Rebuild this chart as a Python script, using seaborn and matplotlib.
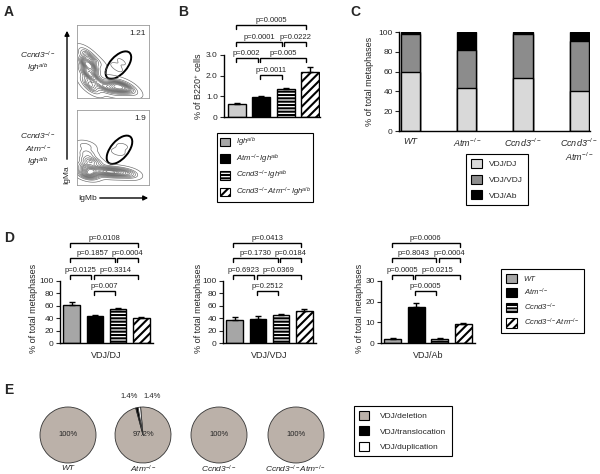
import matplotlib
matplotlib.use('Agg')

import matplotlib.pyplot as plt
from matplotlib.patches import Patch, Ellipse
import seaborn as sns
import numpy as np

W, H = 600, 474

# ---------------- data ----------------
# A: flow populations (IgMb, IgMa as axis fraction)
flow_top_x = [0.13, 0.16, 0.14, 0.18, 0.15, 0.20, 0.16, 0.20, 0.26, 0.26,
              0.33, 0.40, 0.47, 0.53, 0.58, 0.64, 0.70, 0.76, 0.55, 0.62]
flow_top_y = [0.62, 0.55, 0.48, 0.42, 0.35, 0.30, 0.22, 0.14, 0.50, 0.25,
              0.16, 0.15, 0.14, 0.15, 0.16, 0.15, 0.14, 0.13, 0.42, 0.50]
flow_top_w = [2, 3, 5, 5, 4, 3, 3, 3, 1.5, 1.5,
              2, 2.5, 3, 4, 4, 3, 2, 1.5, 0.4, 0.3]
flow_bot_x = [0.12, 0.14, 0.16, 0.14, 0.15, 0.20, 0.24,
              0.30, 0.38, 0.45, 0.52, 0.60, 0.68, 0.75, 0.57, 0.63]
flow_bot_y = [0.52, 0.42, 0.33, 0.24, 0.14, 0.18, 0.30,
              0.20, 0.17, 0.18, 0.17, 0.17, 0.16, 0.15, 0.44, 0.52]
flow_bot_w = [1.5, 2, 3, 4, 6, 5, 2,
              3, 3, 4, 3.5, 3, 2, 1.5, 0.4, 0.3]
gate_pct = ['1.21', '1.9']

IGH = r'Igh$^{a/b}$'
b_groups = [IGH, r'Atm$^{-/-}$Igh$^{a/b}$', r'Ccnd3$^{-/-}$Igh$^{a/b}$',
            r'Ccnd3$^{-/-}$Atm$^{-/-}$Igh$^{a/b}$']
b_mean = [0.65, 0.97, 1.35, 2.2]
b_sem = [0.05, 0.07, 0.04, 0.22]
b_pairs = [(0, 3), (0, 2), (2, 3), (0, 1), (1, 3), (1, 2)]
b_pvals = ['p=0.0005', 'p=0.0001', 'p=0.0222', 'p=0.002', 'p=0.005', 'p=0.0011']

genotypes = ['WT', r'Atm$^{-/-}$', r'Ccnd3$^{-/-}$', r'Ccnd3$^{-/-}$Atm$^{-/-}$']
c_ticklabels = ['WT', r'Atm$^{-/-}$', r'Ccnd3$^{-/-}$', 'Ccnd3$^{-/-}$\nAtm$^{-/-}$']
c_classes = ['VDJ/DJ', 'VDJ/VDJ', 'VDJ/Ab']
c_dj = [60, 43, 54, 40]
c_vdj = [38, 39, 44, 51]
c_ab = [2, 18, 2, 9]

d_classes = ['VDJ/DJ', 'VDJ/VDJ', 'VDJ/Ab']
d_dj_mean = [61, 44, 55, 40.5]
d_dj_sem = [5, 1.5, 1, 1]
d_vdj_mean = [37, 39, 45, 52]
d_vdj_sem = [4, 4, 1, 2]
d_ab_mean = [2, 17.5, 1.8, 9]
d_ab_sem = [0.6, 2, 0.4, 0.5]
d_pairs = [(0, 3), (0, 2), (2, 3), (0, 1), (1, 3), (1, 2)]
d_dj_p = ['p=0.0108', 'p=0.1857', 'p=0.0004', 'p=0.0125', 'p=0.3314', 'p=0.007']
d_vdj_p = ['p=0.0413', 'p=0.1730', 'p=0.0184', 'p=0.6923', 'p=0.0369', 'p=0.2512']
d_ab_p = ['p=0.0006', 'p=0.8043', 'p=0.0004', 'p=0.0005', 'p=0.0215', 'p=0.0005']

e_classes = ['VDJ/deletion', 'VDJ/translocation', 'VDJ/duplication']
e_wt = [100, 0, 0]
e_atm = [97.2, 1.4, 1.4]
e_ccnd3 = [100, 0, 0]
e_both = [100, 0, 0]
e_centre = ['100%', '97.2%', '100%', '100%']

# ---------------- style ----------------
sns.set_style('ticks')
plt.rcParams.update({
    'font.family': ['Liberation Sans', 'DejaVu Sans'],
    'mathtext.fontset': 'custom',
    'mathtext.rm': 'Liberation Sans',
    'mathtext.it': 'Liberation Sans:italic',
    'mathtext.bf': 'Liberation Sans:bold',
    'mathtext.default': 'it',
    'hatch.linewidth': 1.5,
    'axes.linewidth': 1.0,
    'axes.edgecolor': 'black',
})

GRAY = '#a6a6a6'
bar_colors = [GRAY, 'black', 'white', 'white']
bar_hatch = ['', '', '-----', '////']

fig = plt.figure(figsize=(W / 100, H / 100), dpi=100)
fig.patch.set_facecolor('white')


def rect(x0, y0, x1, y1):
    return [x0 / W, 1 - y1 / H, (x1 - x0) / W, (y1 - y0) / H]


ov = fig.add_axes([0, 0, 1, 1])
ov.set_xlim(0, W)
ov.set_ylim(H, 0)
ov.axis('off')

for letter, (lx, ly) in zip('ABCDE', [(4, 12), (178, 12), (350, 12), (4, 238), (4, 390)]):
    ov.text(lx, ly, letter, fontsize=10, fontweight='bold', va='center', ha='left')


def brackets(ax, pairs, pvals, levels, leg):
    for (i, j), p, lv in zip(pairs, pvals, levels):
        xl, xr = i - 0.05, j - 0.15
        ax.plot([xl, xl, xr, xr], [lv - leg, lv, lv, lv - leg], color='black',
                lw=1, clip_on=False, solid_joinstyle='miter')
        ax.text((xl + xr) / 2, lv + leg * 0.3, p, ha='center', va='bottom', fontsize=5.5)


def bar_panel(ax, labels, means, sems, colors, hatches, width):
    sns.barplot(x=labels, y=means, hue=labels, palette=colors, legend=False,
                saturation=1, width=width, edgecolor='black', linewidth=1, ax=ax)
    for patch, h in zip(ax.patches, hatches):
        patch.set_hatch(h)
    ax.errorbar(np.arange(len(means)), means, yerr=[np.zeros(len(sems)), sems],
                fmt='none', ecolor='black', elinewidth=1, capsize=2.2, capthick=1, zorder=5)
    ax.set_xticks([])
    ax.tick_params(axis='y', length=3, width=0.8, labelsize=6, pad=1.5)
    sns.despine(ax=ax)
    ax.patch.set_alpha(0)


def legend(ax, labels, colors, hatches, x, y, italic, spacing, fs=5.5, hs=1.45,
           pad=0.6, tpad=0.9):
    handles = [Patch(facecolor=c, edgecolor='black', hatch=h, linewidth=0.8)
               for c, h in zip(colors, hatches)]
    leg = ax.legend(handles, labels, loc='upper left', bbox_to_anchor=(x / W, 1 - y / H),
                    bbox_transform=fig.transFigure, frameon=True, fancybox=False,
                    framealpha=1, edgecolor='black', fontsize=fs, handlelength=hs,
                    handleheight=hs, labelspacing=spacing, borderpad=pad,
                    handletextpad=tpad, borderaxespad=0)
    leg.get_frame().set_linewidth(0.8)
    if italic:
        for t in leg.get_texts():
            t.set_fontstyle('italic')


# ---------------- A: flow plots ----------------
ax_top = fig.add_axes(rect(77, 25, 149, 98))
ax_bot = fig.add_axes(rect(77, 110, 149, 185))
for ax, xs, ys, ws, pct, gate in [
        (ax_top, flow_top_x, flow_top_y, flow_top_w, gate_pct[0], (0.575, 0.45)),
        (ax_bot, flow_bot_x, flow_bot_y, flow_bot_w, gate_pct[1], (0.59, 0.47))]:
    sns.kdeplot(x=xs, y=ys, weights=ws, levels=14, thresh=0.02, bw_adjust=0.6,
                color='0.4', linewidths=0.45, ax=ax)
    ax.set_xlim(0, 1)
    ax.set_ylim(0, 1)
    ax.add_patch(Ellipse(gate, 0.46, 0.24, angle=48, fill=False, lw=1.4,
                         edgecolor='black', transform=ax.transAxes))
    ax.text(0.96, 0.93, pct, ha='right', va='top', fontsize=6, transform=ax.transAxes)
    ax.set_xticks([])
    ax.set_yticks([])
    ax.set_xlabel('')
    ax.set_ylabel('')
    for s in ax.spines.values():
        s.set_color('0.6')
        s.set_linewidth(0.6)

ov.text(38, 62, 'Ccnd3$^{-/-}$\nIgh$^{a/b}$', ha='center', va='center', fontsize=6,
        fontstyle='italic', linespacing=1.1)
ov.text(38, 150, 'Ccnd3$^{-/-}$\nAtm$^{-/-}$\nIgh$^{a/b}$', ha='center', va='center',
        fontsize=6, fontstyle='italic', linespacing=1.1)
ov.text(67, 175, 'IgMa', rotation=90, ha='center', va='center', fontsize=6)
ov.annotate('', xy=(67, 28), xytext=(67, 162),
            arrowprops=dict(arrowstyle='-|>', color='black', lw=1, mutation_scale=7))
ov.text(78, 198, 'IgMb', ha='left', va='center', fontsize=6)
ov.annotate('', xy=(151, 198), xytext=(97, 198),
            arrowprops=dict(arrowstyle='-|>', color='black', lw=1, mutation_scale=7))

# ---------------- B ----------------
b_y0, b_px = 117, 20.67
ax_b = fig.add_axes(rect(224, 117 - 5 * b_px, 320, 117))
bar_panel(ax_b, b_groups, b_mean, b_sem, ['#cccccc', 'black', 'white', 'white'], bar_hatch, 0.74)
ax_b.set_xlim(-0.535, 3.42)
ax_b.set_ylim(0, 5)
ax_b.spines['left'].set_bounds(0, 3)
ax_b.spines['bottom'].set_bounds(-0.535, 3.42)
ax_b.set_yticks([0, 1, 2, 3], ['0', '1.0', '2.0', '3.0'])
ax_b.set_ylabel('% of B220$^{+}$ cells', fontsize=6.5)
ax_b.yaxis.set_label_coords(204, 86, transform=ov.transData)
b_levels = [(b_y0 - p) / b_px for p in [25, 42, 42, 58, 58, 75]]
brackets(ax_b, b_pairs, b_pvals, b_levels, 4 / b_px)
legend(ax_b, b_groups, [GRAY, 'black', 'white', 'white'], bar_hatch, 217, 133, True, 0.45,
       hs=1.3, pad=0.35, tpad=0.8)

# ---------------- C ----------------
ax_c = fig.add_axes(rect(399, 32, 590, 131))
tot = [a + b + c for a, b, c in zip(c_dj, c_vdj, c_ab)]
mid = [a + b for a, b in zip(c_dj, c_vdj)]
for vals, col in [(tot, 'black'), (mid, '#8c8c8c'), (c_dj, '#d9d9d9')]:
    sns.barplot(x=genotypes, y=vals, color=col, saturation=1, width=0.34,
                edgecolor='black', linewidth=1, ax=ax_c)
ax_c.set_xlim(-0.204, 3.19)
ax_c.set_ylim(0, 100)
ax_c.set_yticks(range(0, 101, 20))
ax_c.set_xticks(range(4), c_ticklabels, fontstyle='italic')
ax_c.tick_params(axis='x', length=0, labelsize=6.5, pad=4)
ax_c.tick_params(axis='y', length=3, width=0.8, labelsize=6, pad=1.5)
ax_c.set_ylabel('% of total metaphases', fontsize=6.5)
ax_c.yaxis.set_label_coords(374, 81, transform=ov.transData)
sns.despine(ax=ax_c)
legend(ax_c, c_classes, ['#d9d9d9', '#8c8c8c', 'black'], ['', '', ''], 466, 154, False, 0.75,
       fs=6, hs=1.3)

# ---------------- D ----------------
d_y0 = 343
d_specs = [
    (60, 153, d_dj_mean, d_dj_sem, d_dj_p, 100, 20, 0.623, d_classes[0], 38),
    (223, 316, d_vdj_mean, d_vdj_sem, d_vdj_p, 100, 20, 0.623, d_classes[1], 203),
    (381, 475, d_ab_mean, d_ab_sem, d_ab_p, 30, 10, 2.07, d_classes[2], 364),
]
for x0, x1, mean, sem, pv, top, step, pxper, xlab, ylx in d_specs:
    ax = fig.add_axes(rect(x0, 230, x1, d_y0))
    bar_panel(ax, genotypes, mean, sem, bar_colors, bar_hatch, 0.72)
    ax.set_xlim(-0.5, 3.5)
    ax.set_ylim(0, (d_y0 - 230) / pxper)
    ax.spines['left'].set_bounds(0, top)
    ax.set_yticks(range(0, top + 1, step))
    ax.set_ylabel('% of total metaphases', fontsize=6.5)
    ax.yaxis.set_label_coords(ylx, 308, transform=ov.transData)
    ax.set_xlabel(xlab, fontsize=6.5)
    ax.xaxis.set_label_coords((x0 + x1) / 2, 351, transform=ov.transData)
    levels = [(d_y0 - p) / pxper for p in [243, 258, 258, 275, 275, 291]]
    brackets(ax, d_pairs, pv, levels, 4 / pxper)
    ax_d_last = ax
legend(ax_d_last, genotypes, bar_colors, bar_hatch, 501, 269, True, 0.5)

# ---------------- E ----------------
ax_e = fig.add_axes(rect(0, 395, 340, 474))
pie_cols = ['#bbb1a9', 'black', 'white']
centres_x = [68, 143, 219, 296]
for cx, vals, lab, gl in zip(centres_x, [e_wt, e_atm, e_ccnd3, e_both], e_centre, genotypes):
    v = [x for x in vals if x > 0]
    cols = [c for x, c in zip(vals, pie_cols) if x > 0]
    ax_e.pie(v, colors=cols, center=(cx, 474 - 435), radius=28, startangle=95,
             counterclock=False, wedgeprops=dict(edgecolor='#333333', linewidth=0.6))
    ax_e.text(cx, 474 - 435, lab, ha='center', va='center', fontsize=5.5)
    ax_e.text(cx, 474 - 469, gl, ha='center', va='center', fontsize=6, fontstyle='italic')
ax_e.text(129, 474 - 397, '1.4%', ha='center', va='center', fontsize=5.5)
ax_e.text(152, 474 - 397, '1.4%', ha='center', va='center', fontsize=5.5)
ax_e.set_xlim(0, 340)
ax_e.set_ylim(0, 79)
ax_e.set_aspect('auto')
ax_e.axis('off')
legend(ax_e, e_classes, pie_cols, ['', '', ''], 354, 406, False, 0.75, fs=6, hs=1.25,
       tpad=1.3)

fig.savefig('out.png', dpi=100, facecolor='white')
